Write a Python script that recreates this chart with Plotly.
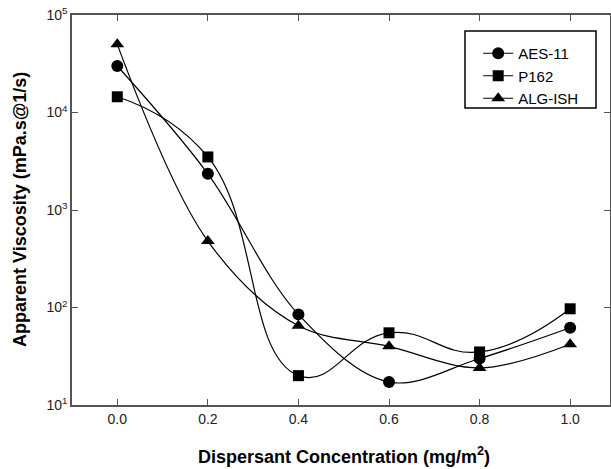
import plotly.graph_objects as go

conc = [0.0, 0.2, 0.4, 0.6, 0.8, 1.0]
aes11 = [30000, 2350, 85, 17.2, 30, 62]
p162 = [14500, 3500, 20, 55, 35, 97]
alg_ish = [50000, 480, 65, 40, 24, 42]

y_tickvals = [10, 100, 1000, 10000, 100000]
y_ticktext = ["10<sup>1</sup>", "10<sup>2</sup>", "10<sup>3</sup>", "10<sup>4</sup>", "10<sup>5</sup>"]
x_tickvals = [0.0, 0.2, 0.4, 0.6, 0.8, 1.0]
x_ticktext = ["0.0", "0.2", "0.4", "0.6", "0.8", "1.0"]

FONT = "Liberation Sans, Arial, sans-serif"

fig = go.Figure()
series = [("AES-11", aes11, "circle", 12, 1.0),
          ("P162", p162, "square", 11, 1.3),
          ("ALG-ISH", alg_ish, "triangle-up", 12, 1.0)]
for name, vals, sym, sz, sm in series:
    fig.add_trace(go.Scatter(
        x=conc, y=vals, name=name, mode="lines+markers",
        line=dict(color="black", width=1.2, shape="spline", smoothing=sm),
        marker=dict(symbol=sym, size=sz, color="black"),
    ))

axis_common = dict(
    showgrid=False, zeroline=False, showline=True, linecolor="#555555", linewidth=1.5,
    mirror="ticks", ticks="inside", ticklen=6, tickcolor="#555555", tickwidth=1.2,
    tickfont=dict(family=FONT, size=14, color="#222222"),
    automargin=False,
)

fig.update_xaxes(range=[-0.1, 1.088], tickvals=x_tickvals, ticktext=x_ticktext, **axis_common)
fig.update_yaxes(type="log", range=[1, 5], tickvals=y_tickvals, ticktext=y_ticktext, **axis_common)

fig.add_annotation(
    text="<b>Dispersant Concentration (mg/m<sup>2</sup>)</b>",
    xref="paper", yref="paper", x=0.505, y=0, yshift=-50,
    xanchor="center", yanchor="middle", showarrow=False,
    font=dict(family=FONT, size=18, color="black"),
)
fig.add_annotation(
    text="<b>Apparent Viscosity (mPa.s@1/s)</b>",
    xref="paper", yref="paper", x=0, xshift=-52, y=0.5,
    xanchor="center", yanchor="middle", textangle=-90, showarrow=False,
    font=dict(family=FONT, size=18, color="black"),
)

# legend frame
fig.add_shape(type="rect", xref="paper", yref="paper",
              x0=0.7305, x1=0.974, y0=0.7615, y1=0.959,
              line=dict(color="black", width=1.5), fillcolor="white", layer="below")

fig.update_layout(
    width=611, height=469,
    margin=dict(l=72, r=1, t=15, b=64),
    plot_bgcolor="white", paper_bgcolor="white",
    showlegend=True,
    legend=dict(
        x=0.755, y=0.9436, xanchor="left", yanchor="top",
        borderwidth=0, bgcolor="rgba(0,0,0,0)",
        font=dict(family=FONT, size=15, color="black"),
        itemwidth=30, tracegroupgap=0,
    ),
)

fig.write_html("out.html", config={"displayModeBar": False},
               post_script="document.body.style.margin='0';document.body.style.overflow='hidden';")
